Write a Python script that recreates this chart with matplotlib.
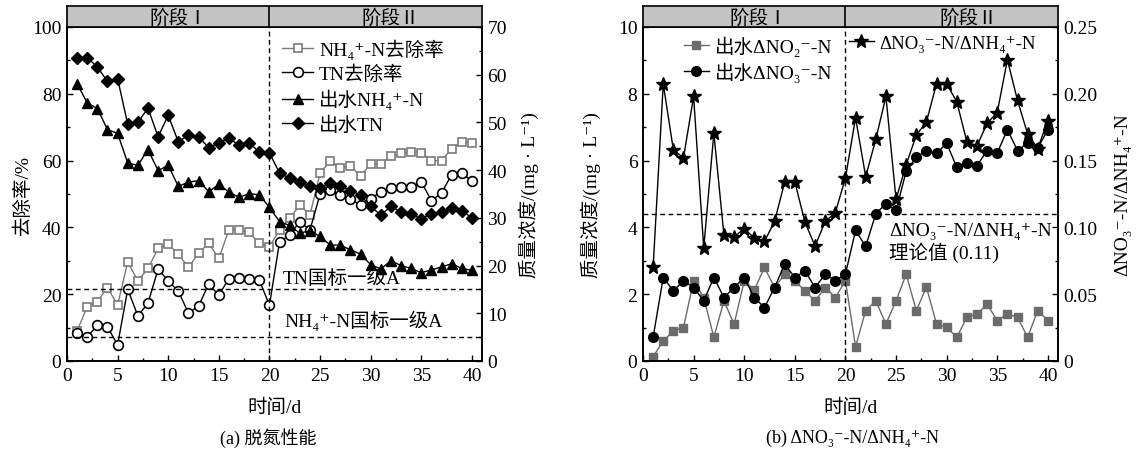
import numpy as np
import matplotlib
matplotlib.use("Agg")
import matplotlib.pyplot as plt
from matplotlib.ticker import MultipleLocator, FuncFormatter

plt.rcParams['font.family'] = ['Liberation Serif', 'Noto Sans CJK SC', 'DejaVu Sans']
plt.rcParams['font.size'] = 14
plt.rcParams['axes.unicode_minus'] = True

# data
days = np.arange(1, 41)

# (a) removal rates (%) and effluent concentrations (mg/L)
nh4_removal = [9.0, 16.3, 17.8, 22.0, 16.7, 29.7, 24.0, 27.7, 33.7, 35.0,
               32.0, 28.0, 32.3, 35.3, 30.7, 39.3, 39.2, 38.5, 35.2, 34.2,
               39.3, 42.7, 46.7, 43.7, 56.2, 59.8, 57.7, 58.5, 55.3, 59.1,
               59.1, 61.3, 62.2, 62.7, 62.3, 60.0, 60.0, 63.5, 65.7, 65.2]
tn_removal = [8.3, 7.2, 10.7, 10.2, 4.8, 21.5, 13.5, 17.3, 27.5, 24.0,
              20.9, 14.3, 16.5, 23.0, 19.7, 24.7, 25.0, 24.5, 24.2, 16.7,
              35.7, 37.7, 41.7, 39.2, 49.9, 51.2, 49.7, 48.5, 46.7, 48.5,
              50.7, 51.8, 52.2, 52.2, 53.7, 48.0, 50.3, 55.8, 56.3, 53.9]
eff_nh4 = [58.1, 54.1, 52.9, 48.5, 47.7, 41.5, 41.0, 44.3, 39.9, 41.0,
           36.6, 37.5, 37.8, 35.5, 37.0, 35.4, 34.3, 35.1, 34.8, 32.2,
           29.2, 28.4, 26.8, 27.3, 26.1, 24.3, 24.3, 23.3, 22.4, 20.2,
           19.3, 21.0, 20.0, 19.4, 18.5, 19.1, 19.7, 20.4, 19.4, 19.0]
eff_tn = [63.4, 63.6, 61.6, 58.6, 59.2, 49.6, 50.0, 53.0, 47.0, 51.5,
          45.9, 47.4, 47.0, 44.7, 45.7, 46.7, 45.2, 45.7, 43.8, 43.6,
          39.4, 38.3, 37.6, 36.7, 36.2, 37.4, 36.7, 35.7, 34.8, 32.4,
          30.6, 32.4, 31.2, 30.8, 29.8, 30.9, 31.2, 32.0, 31.5, 30.0]
tn_std = 15
nh4_std = 5

# (b) nitrite / nitrate (mg/L) and ratio
d_no2 = [0.13, 0.6, 0.9, 1.0, 2.4, 1.9, 0.71, 1.8, 1.1, 2.4,
         2.13, 2.8, 2.2, 2.6, 2.4, 2.1, 1.8, 2.2, 1.9, 2.4,
         0.43, 1.51, 1.8, 1.11, 1.8, 2.6, 1.51, 2.21, 1.11, 1.01,
         0.71, 1.31, 1.41, 1.7, 1.21, 1.41, 1.31, 0.71, 1.51, 1.21]
d_no3 = [0.71, 2.5, 2.1, 2.4, 2.2, 1.8, 2.5, 1.9, 2.2, 2.5,
         1.9, 1.6, 2.2, 2.9, 2.5, 2.7, 2.2, 2.6, 2.4, 2.6,
         3.91, 3.43, 4.41, 4.71, 4.51, 5.68, 6.1, 6.3, 6.22, 6.52,
         5.8, 5.93, 5.85, 6.3, 6.23, 6.93, 6.3, 6.53, 6.38, 6.92]
ratio = [0.070, 0.2075, 0.158, 0.152, 0.198, 0.0845, 0.1705, 0.094, 0.093, 0.099,
         0.092, 0.0895, 0.1045, 0.134, 0.134, 0.104, 0.086, 0.1045, 0.111, 0.137,
         0.182, 0.138, 0.166, 0.198, 0.121, 0.147, 0.169, 0.179, 0.2075, 0.2075,
         0.194, 0.164, 0.161, 0.178, 0.186, 0.2255, 0.195, 0.170, 0.159, 0.180]
ratio_theory = 0.11

NH4 = 'NH\u2084\u207a-N'
NO2 = '\u0394NO\u2082\u207b-N'
NO3 = '\u0394NO\u2083\u207b-N'
CONC = '质量浓度/(mg · L\u207b\u00b9)'

W, H = 1139, 460
fig = plt.figure(figsize=(W / 100, H / 100), dpi=100)
DASH = (0, (3.5, 2.5))

def frac(x0, x1, ytop, ybot):
    return [x0 / W, 1 - ybot / H, (x1 - x0) / W, (ybot - ytop) / H]

def style(ax):
    ax.tick_params(which='both', direction='in', top=False, length=4, width=1,
                   labelsize=14, pad=4)
    ax.tick_params(which='minor', length=2.5)
    for s in ax.spines.values():
        s.set_linewidth(1.2)

def header(x0, x1, c1, c2):
    hx = fig.add_axes(frac(x0, x1, 7, 28))
    hx.set_facecolor('#c4c4c4')
    hx.set_xlim(0, 41)
    hx.set_ylim(0, 1)
    hx.axvline(20, color='k', lw=1.2)
    hx.set_xticks([])
    hx.set_yticks([])
    for s in hx.spines.values():
        s.set_linewidth(1.2)
    hx.text(c1, 0.45, '阶段Ⅰ', ha='center', va='center', fontsize=14)
    hx.text(c2, 0.45, '阶段Ⅱ', ha='center', va='center', fontsize=14)

leg_kw = dict(frameon=False, handlelength=1.6, handletextpad=0.3, labelspacing=0.3,
              borderaxespad=0.2, fontsize=14, loc='upper left')

# ---------- (a) ----------
ax = fig.add_axes(frac(67, 482, 28, 362))
ax2 = ax.twinx()
ax.set_xlim(0, 41)
ax.set_ylim(0, 100)
ax2.set_ylim(0, 70)

l1, = ax.plot(days, nh4_removal, '-s', color='#7a7a7a', mfc='white', mec='#7a7a7a',
              ms=6, lw=1, mew=1.2, label=NH4 + '去除率')
l2, = ax.plot(days, tn_removal, '-o', color='k', mfc='white', mec='k',
              ms=7, lw=1, mew=1.2, label='TN去除率')
l3, = ax2.plot(days, eff_nh4, '-^', color='k', ms=7, lw=1, label='出水' + NH4)
l4, = ax2.plot(days, eff_tn, '-D', color='k', ms=6, lw=1, label='出水TN')

ax2.axhline(tn_std, color='k', ls=DASH, lw=1)
ax2.axhline(nh4_std, color='k', ls=DASH, lw=1)
ax.axvline(20, color='k', ls=DASH, lw=1)
ax2.text(21.3, 17.4, 'TN国标一级A', va='center', fontsize=14)
ax2.text(21.5, 8.6, NH4 + '国标一级A', va='center', fontsize=14)

ax.xaxis.set_major_locator(MultipleLocator(5))
ax.xaxis.set_minor_locator(MultipleLocator(2.5))
ax.yaxis.set_major_locator(MultipleLocator(20))
ax.yaxis.set_minor_locator(MultipleLocator(10))
ax2.yaxis.set_major_locator(MultipleLocator(10))
ax2.yaxis.set_minor_locator(MultipleLocator(5))
style(ax)
style(ax2)
ax.set_xlabel('时间/d', labelpad=10)
ax.set_ylabel('去除率/%', labelpad=0)
ax2.set_ylabel(CONC, labelpad=8)
ax.legend(handles=[l1, l2, l3, l4], bbox_to_anchor=(0.49, 1.0), **leg_kw)
header(67, 482, 11, 32)
fig.text(268 / W, 1 - 438 / H, '(a) 脱氮性能', ha='center', va='center', fontsize=13)

# ---------- (b) ----------
bx = fig.add_axes(frac(643, 1058, 28, 362))
bx2 = bx.twinx()
bx.set_xlim(0, 41)
bx.set_ylim(0, 10)
bx2.set_ylim(0, 0.25)

m1, = bx.plot(days, d_no2, '-s', color='#6b6b6b', mfc='#6b6b6b', mec='#6b6b6b',
              ms=6, lw=1, label='出水' + NO2)
m2, = bx.plot(days, d_no3, '-o', color='k', ms=7, lw=1, label='出水' + NO3)
m3, = bx2.plot(days, ratio, '-*', color='k', ms=10, lw=1, label=NO3 + '/\u0394' + NH4)

bx2.axhline(ratio_theory, color='k', ls=DASH, lw=1)
bx.axvline(20, color='k', ls=DASH, lw=1)
bx.text(24.3, 4.15, NO3 + '/\u0394' + NH4 + '\n理论值 (0.11)', va='top', fontsize=14,
        linespacing=1.15)

bx.xaxis.set_major_locator(MultipleLocator(5))
bx.xaxis.set_minor_locator(MultipleLocator(2.5))
bx.yaxis.set_major_locator(MultipleLocator(2))
bx.yaxis.set_minor_locator(MultipleLocator(1))
bx2.yaxis.set_major_locator(MultipleLocator(0.05))
bx2.yaxis.set_minor_locator(MultipleLocator(0.025))
bx2.yaxis.set_major_formatter(FuncFormatter(
    lambda v, p: '0' if abs(v) < 1e-9 else f'{v:.2f}'))
style(bx)
style(bx2)
bx.set_xlabel('时间/d', labelpad=10)
bx.set_ylabel(CONC, labelpad=12)
bx2.set_ylabel(NO3 + '/\u0394' + NH4, labelpad=12)
leg_b = dict(leg_kw, handlelength=1.3)
bx.legend(handles=[m1, m2], bbox_to_anchor=(0.07, 1.01), **leg_b)
leg_b2 = dict(leg_b, fontsize=13.5)
bx2.legend(handles=[m3], bbox_to_anchor=(0.47, 1.01), **leg_b2)
header(643, 1058, 11.4, 32.2)
fig.text(852 / W, 1 - 438 / H, '(b) ' + NO3 + '/\u0394' + NH4, ha='center', va='center',
         fontsize=13)

fig.savefig('out.png', dpi=100)
